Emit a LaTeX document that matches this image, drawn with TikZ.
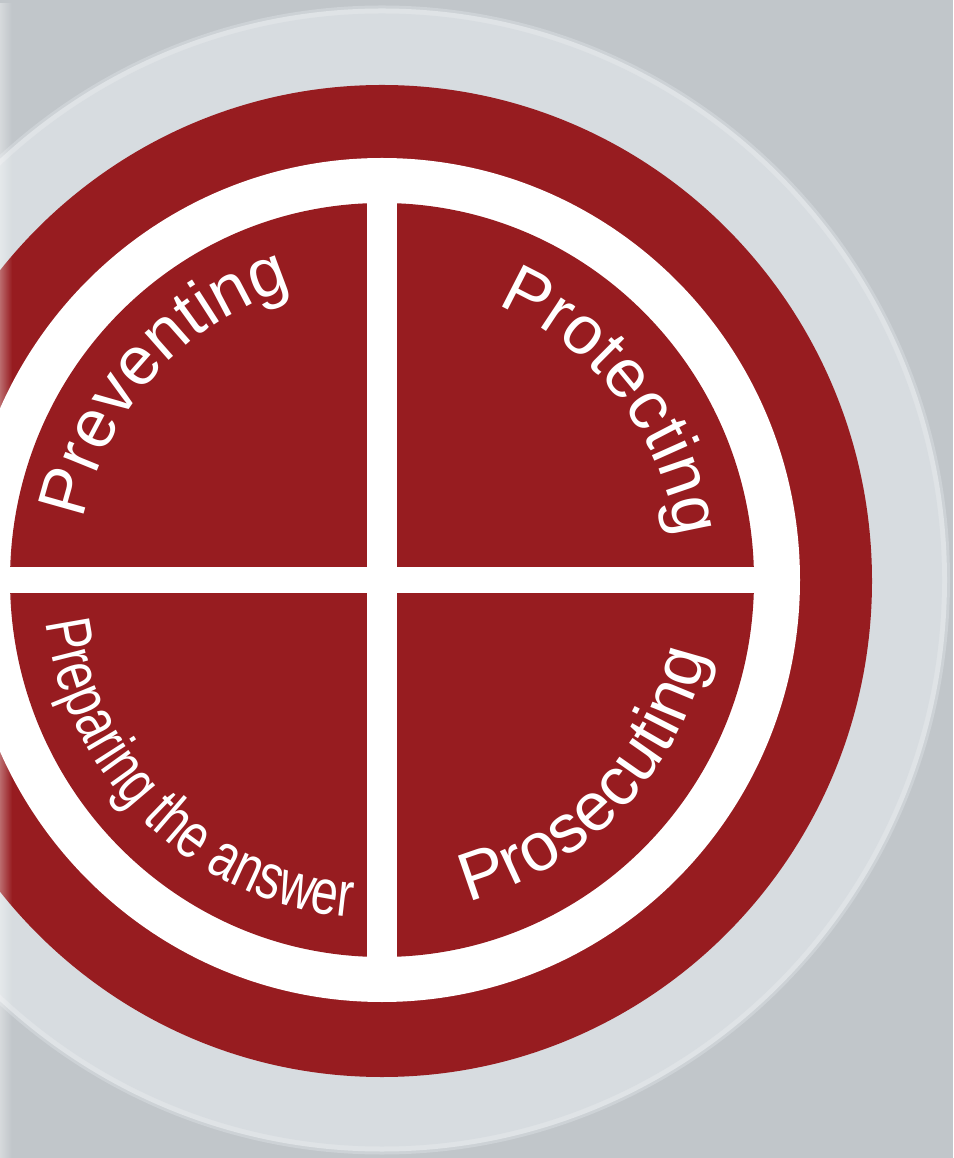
\documentclass[tikz,border=0pt]{standalone}
\usepackage{fontspec}
\setmainfont{Liberation Sans}
\newfontfamily\wheellabelfont{Liberation Sans}
\newfontfamily\wheelnarrowfont[FakeStretch=0.755]{Liberation Sans}
\newcommand\wheelbigfont{\wheellabelfont\fontsize{68.5pt}{68.5pt}\selectfont}
\newcommand\wheelsmallfont{\wheelnarrowfont\fontsize{64pt}{64pt}\selectfont}
\usetikzlibrary{decorations.text,fadings}
\definecolor{bgGray}{HTML}{C1C6CA}
\definecolor{haloGray}{HTML}{CDD2D6}
\definecolor{discGray}{HTML}{D7DCE0}
\definecolor{rimGray}{HTML}{DFE3E6}
\definecolor{wheelRed}{HTML}{971C20}
\tikzset{
  quadlabel/.style={decorate},
}
\begin{document}
\begin{tikzpicture}
\useasboundingbox (-382pt,-578pt) rectangle (571pt,580pt);
% background
\fill[bgGray] (-382pt,-578pt) rectangle (571pt,580pt);
% light disc with soft halo and bright rim
\fill[haloGray] (0,0) ellipse[x radius=568pt, y radius=574.5pt];
\fill[rimGray] (0,0) ellipse[x radius=565pt, y radius=571.5pt];
\fill[discGray] (0,0) ellipse[x radius=560pt, y radius=566.5pt];
% red ring
\fill[wheelRed] (0,-1pt) ellipse[x radius=490pt, y radius=496pt];
% white ring
\fill[white] (0,0) ellipse[x radius=418pt, y radius=422pt];
% inner red disc
\fill[wheelRed] (0,0) ellipse[x radius=372pt, y radius=377pt];
% white cross
\fill[white] (-15pt,-395pt) rectangle (15pt,395pt);
\fill[white] (-395pt,-13pt) rectangle (395pt,13pt);
% labels along arcs
\path[quadlabel, decoration={text along path, text align=center, text color=white,
  text={|\wheelbigfont|Preventing}}]
  (197.85:305pt) arc[start angle=197.85, end angle=77.85, radius=305pt];
\path[quadlabel, decoration={text along path, text align=center, text color=white,
  text={|\wheelbigfont|Protecting}}]
  (97.7:298pt) arc[start angle=97.7, end angle=-22.3, radius=298pt];
\path[quadlabel, decoration={text along path, text align=center, text color=white,
  text={|\wheelbigfont|Prosecuting}}]
  (-103.85:333pt) arc[start angle=-103.85, end angle=16.15, radius=333pt];
\path[quadlabel, decoration={text along path, text align=center, text color=white,
  text={|\wheelsmallfont|Preparing the answer}}]
  (166:339pt) arc[start angle=166, end angle=286, radius=339pt];
% soft fade at the left edge
\fill[white, opacity=0.35, path fading=east] (-382pt,-578pt) rectangle (-370pt,580pt);
\end{tikzpicture}
\end{document}
